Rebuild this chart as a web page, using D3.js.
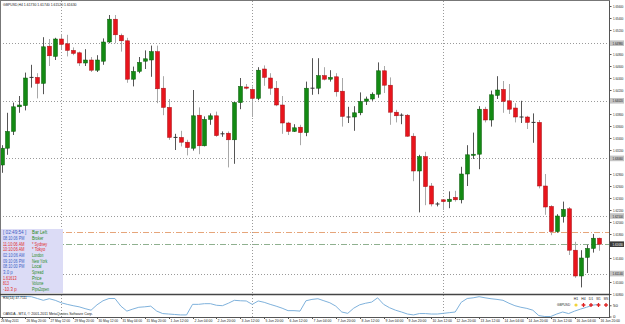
<!DOCTYPE html>
<html>
<head>
<meta charset="utf-8">
<script src="https://cdn.jsdelivr.net/npm/d3@7"></script>
<style>
  html, body { margin: 0; padding: 0; background: #fff; }
  svg { display: block; font-family: "Liberation Sans", Arial, sans-serif; }
</style>
</head>
<body>
<svg id="chart" width="625" height="324"></svg>
<script>
// GBPUSD H4, 101 bars
const symbol = "GBPUSD,H4";

const opens = [1.6295,1.6323,1.6351,1.6392,1.6394,1.6441,1.6441,1.6431,1.6493,1.6476,
  1.6505,1.6497,1.6486,1.6482,1.6465,1.6470,1.6453,1.6468,1.6500,1.6538,
  1.6511,1.6502,1.6438,1.6451,1.6468,1.6470,1.6484,1.6423,1.6391,1.6341,
  1.6341,1.6333,1.6323,1.6378,1.6327,1.6371,1.6377,1.6347,1.6348,1.6337,
  1.6399,1.6425,1.6421,1.6406,1.6455,1.6440,1.6423,1.6395,1.6365,1.6351,
  1.6358,1.6349,1.6423,1.6423,1.6444,1.6438,1.6442,1.6418,1.6375,1.6375,
  1.6382,1.6401,1.6405,1.6413,1.6452,1.6428,1.6383,1.6378,1.6378,1.6343,
  1.6285,1.6309,1.6260,1.6230,1.6237,1.6234,1.6241,1.6237,1.6280,1.6311,
  1.6313,1.6388,1.6370,1.6411,1.6421,1.6402,1.6390,1.6375,1.6375,1.6366,
  1.6366,1.6260,1.6226,1.6184,1.6209,1.6222,1.6153,1.6110,1.6141,1.6156,
  1.6173];
const highs = [1.6328,1.6382,1.6399,1.6410,1.6449,1.6462,1.6448,1.6508,1.6505,1.6507,
  1.6513,1.6512,1.6491,1.6484,1.6488,1.6475,1.6478,1.6506,1.6545,1.6545,
  1.6514,1.6507,1.6459,1.6475,1.6486,1.6494,1.6494,1.6443,1.6405,1.6347,
  1.6352,1.6337,1.6420,1.6391,1.6376,1.6381,1.6384,1.6351,1.6351,1.6400,
  1.6440,1.6430,1.6426,1.6458,1.6461,1.6448,1.6435,1.6410,1.6367,1.6363,
  1.6362,1.6434,1.6473,1.6473,1.6458,1.6453,1.6448,1.6440,1.6392,1.6393,
  1.6416,1.6409,1.6416,1.6466,1.6460,1.6441,1.6387,1.6381,1.6380,1.6348,
  1.6312,1.6317,1.6265,1.6233,1.6238,1.6251,1.6252,1.6292,1.6328,1.6349,
  1.6393,1.6392,1.6419,1.6443,1.6435,1.6430,1.6398,1.6402,1.6377,1.6381,
  1.6370,1.6280,1.6228,1.6213,1.6234,1.6225,1.6167,1.6153,1.6162,1.6180,
  1.6174];
const lows = [1.6282,1.6312,1.6345,1.6382,1.6386,1.6424,1.6406,1.6413,1.6460,1.6470,
  1.6487,1.6476,1.6478,1.6460,1.6460,1.6450,1.6450,1.6462,1.6498,1.6498,
  1.6484,1.6432,1.6426,1.6448,1.6455,1.6442,1.6398,1.6378,1.6337,1.6320,
  1.6326,1.6311,1.6319,1.6313,1.6326,1.6362,1.6342,1.6342,1.6291,1.6297,
  1.6388,1.6421,1.6375,1.6403,1.6427,1.6412,1.6393,1.6347,1.6345,1.6350,
  1.6328,1.6343,1.6412,1.6413,1.6436,1.6434,1.6409,1.6359,1.6365,1.6352,
  1.6378,1.6395,1.6402,1.6407,1.6415,1.6362,1.6366,1.6363,1.6342,1.6268,
  1.6216,1.6228,1.6226,1.6226,1.6220,1.6223,1.6234,1.6231,1.6260,1.6305,
  1.6288,1.6366,1.6359,1.6405,1.6382,1.6380,1.6366,1.6365,1.6355,1.6332,
  1.6256,1.6212,1.6178,1.6182,1.6199,1.6145,1.6107,1.6091,1.6115,1.6149,
  1.6152];
const closes = [1.6323,1.6351,1.6392,1.6395,1.6440,1.6441,1.6431,1.6492,1.6477,1.6505,
  1.6496,1.6486,1.6481,1.6465,1.6470,1.6453,1.6470,1.6500,1.6538,1.6512,
  1.6502,1.6438,1.6451,1.6466,1.6472,1.6484,1.6422,1.6391,1.6341,1.6341,
  1.6333,1.6324,1.6377,1.6327,1.6371,1.6377,1.6344,1.6347,1.6337,1.6399,
  1.6426,1.6423,1.6406,1.6453,1.6441,1.6423,1.6395,1.6365,1.6351,1.6357,
  1.6349,1.6423,1.6423,1.6444,1.6438,1.6441,1.6417,1.6376,1.6375,1.6382,
  1.6401,1.6405,1.6413,1.6452,1.6428,1.6383,1.6377,1.6378,1.6343,1.6285,
  1.6309,1.6259,1.6230,1.6230,1.6234,1.6238,1.6237,1.6280,1.6312,1.6313,
  1.6388,1.6370,1.6412,1.6420,1.6401,1.6388,1.6375,1.6375,1.6366,1.6366,
  1.6260,1.6225,1.6184,1.6210,1.6221,1.6153,1.6110,1.6140,1.6156,1.6173,
  1.6163];

// oscillator in the lower window (0..100)
const oscValues = [89,89,89,89,89,88,80,72,79,72,61,54,48,43,35,28,52,70,80,80,
  46,24,33,41,43,46,24,13,11,9,7,7,54,54,57,57,50,48,59,72,
  70,69,54,69,63,54,46,37,26,26,24,70,76,79,70,61,46,20,14,37,
  52,59,64,83,54,39,28,20,11,7,13,13,11,11,14,17,20,63,80,83,
  88,83,79,76,72,59,48,41,36,28,4,0,0,11,20,13,24,33,41,50,54];

const timeLabels = ["26 May 2011","26 May 20:00","27 May 12:00","29 May 20:00","30 May 12:00",
  "31 May 04:00","31 May 20:00","1 Jun 12:00","2 Jun 04:00","2 Jun 20:00","3 Jun 12:00",
  "5 Jun 20:00","6 Jun 12:00","7 Jun 04:00","7 Jun 20:00","8 Jun 12:00","9 Jun 04:00",
  "9 Jun 20:00","10 Jun 12:00","12 Jun 20:00","13 Jun 12:00","14 Jun 04:00","14 Jun 20:00",
  "15 Jun 12:00","16 Jun 04:00","16 Jun 20:00"];
const priceTicks = [1.6560,1.6540,1.6520,1.6500,1.6480,1.6460,1.6440,1.6420,1.6400,1.6380,
  1.6360,1.6340,1.6320,1.6300,1.6280,1.6260,1.6240,1.6220,1.6200,1.6180,1.6160,1.6140,
  1.6120,1.6100,1.6080];
const levelLines = [1.6498, 1.6402, 1.6306, 1.6210, 1.6114];
const orangeLevel = 1.6183;
const gridBars = [10, 42, 74];
const oscTicks = [50, 0];

const infoValues = ["[ 02:49:54 ]","08:10:06 PM","11:10:06 AM","10:10:06 AM","02:10:06 AM",
  "09:10:06 PM","08:10:00 PM","3.0 p","1.61613","813","-10.3 p"];
const infoNames = ["Bar Left","Broker","* Sydney","* Tokyo","London","New York","Local",
  "Spread","Price","Volume","Pips2open"];
const infoValueColors = ["#3b5cc4","#3b5cc4","#e02828","#e02828","#3b5cc4","#3b5cc4",
  "#3b5cc4","#3b5cc4","#e02828","#e02828","#e02828"];
const infoNameColors = ["#1f8a1f","#1f8a1f","#e02828","#e02828","#1f8a1f","#1f8a1f",
  "#1f8a1f","#1f8a1f","#1f8a1f","#1f8a1f","#1f8a1f"];
const tfNames = ["H1","H4","D1","W1","MN"];

const W = 625, H = 324;
const plotRight = 609;
const mainTop = 1, mainBottom = 294;
const oscTop = 294, oscBottom = 317;

const svg = d3.select("#chart");
const bars = d3.range(closes.length);

let x = d3.scaleLinear().domain([0, bars.length - 1]).range([1.5, 598.5]);
let y = d3.scaleLinear().domain([1.6570, 1.6080]).range([0, 294]);
let yOsc = d3.scaleLinear().domain([0, 100]).range([316.5, 294]);

// squeeze text horizontally to the width it has in the screenshot
function fit(sel, perChar) {
  sel.each(function () {
    let n = this.textContent.length;
    let natural = this.getComputedTextLength();
    if (!natural) return;
    let s = Math.min(1, n * perChar / natural);
    let tx = +this.getAttribute("x") || 0;
    this.setAttribute("transform", `translate(${tx * (1 - s)},0) scale(${s},1)`);
  });
  return sel;
}

svg.append("rect").attr("width", W).attr("height", H).attr("fill", "#fff");

svg.append("clipPath").attr("id", "mainClip")
  .append("rect").attr("x", 0).attr("y", mainTop).attr("width", plotRight).attr("height", mainBottom - mainTop);

// vertical grid (through both windows)
svg.selectAll(".vgrid").data(gridBars).enter().append("line")
  .attr("x1", d => Math.round(x(d)) + 0.5).attr("x2", d => Math.round(x(d)) + 0.5)
  .attr("y1", mainTop).attr("y2", oscBottom)
  .attr("stroke", "#9a9a9a").attr("stroke-width", 1).attr("stroke-dasharray", "1,2");

// horizontal levels
svg.selectAll(".hgrid").data(levelLines).enter().append("line")
  .attr("x1", 0).attr("x2", plotRight)
  .attr("y1", d => Math.round(y(d)) + 0.5).attr("y2", d => Math.round(y(d)) + 0.5)
  .attr("stroke", "#9a9a9a").attr("stroke-width", 1).attr("stroke-dasharray", "1,2");

svg.append("line")
  .attr("x1", 0).attr("x2", plotRight)
  .attr("y1", Math.round(y(orangeLevel)) + 0.5).attr("y2", Math.round(y(orangeLevel)) + 0.5)
  .attr("stroke", "#e6a57a").attr("stroke-width", 1).attr("stroke-dasharray", "6,2,1,2");

let last = closes.length - 1;
svg.append("line")
  .attr("x1", 0).attr("x2", plotRight)
  .attr("y1", Math.round(y(closes[last])) + 0.5).attr("y2", Math.round(y(closes[last])) + 0.5)
  .attr("stroke", "#8fb08f").attr("stroke-width", 1).attr("stroke-dasharray", "6,2,1,2");

// candles
let candles = svg.append("g").attr("clip-path", "url(#mainClip)");
bars.forEach(i => {
  let o = opens[i], c = closes[i];
  let up = c > o, flat = Math.abs(c - o) < 0.00005;
  let cx = Math.round(x(i)) + 0.5;
  candles.append("line")
    .attr("x1", cx).attr("x2", cx)
    .attr("y1", y(highs[i])).attr("y2", y(lows[i]))
    .attr("stroke", up || flat ? "#555" : "#a8a8a8").attr("stroke-width", 1);
  if (flat) {
    candles.append("line")
      .attr("x1", cx - 2).attr("x2", cx + 2)
      .attr("y1", y(o)).attr("y2", y(o))
      .attr("stroke", "#333").attr("stroke-width", 1);
  } else {
    let top = y(Math.max(o, c)), bot = y(Math.min(o, c));
    candles.append("rect")
      .attr("x", cx - 2).attr("width", 4)
      .attr("y", top).attr("height", Math.max(1, bot - top))
      .attr("fill", up ? "#138a13" : "#e8141c")
      .attr("stroke", up ? "#0b5a0b" : "#a31015").attr("stroke-width", 0.5);
  }
});

// title
fit(svg.append("text").attr("x", 3).attr("y", 6)
  .attr("font-size", 4.4).attr("fill", "#222")
  .text(symbol + " " + [opens[last], highs[last], lows[last], closes[last]].map(d3.format(".5f")).join(" ")), 1.8);

// frame + price axis
svg.append("line").attr("x1", plotRight + 0.5).attr("x2", plotRight + 0.5)
  .attr("y1", 0).attr("y2", oscBottom).attr("stroke", "#555").attr("stroke-width", 1);
svg.append("line").attr("x1", 0).attr("x2", plotRight + 1)
  .attr("y1", 0.5).attr("y2", 0.5).attr("stroke", "#777");
svg.append("line").attr("x1", 0.5).attr("x2", 0.5)
  .attr("y1", 0).attr("y2", oscBottom).attr("stroke", "#777");

let boxed = levelLines.concat([closes[last]]);
let freeTicks = priceTicks.filter(t => boxed.every(b => Math.abs(y(t) - y(b)) > 4));

let priceAxis = svg.append("g").attr("transform", `translate(${plotRight + 0.5},0)`)
  .call(d3.axisRight(y).tickValues(freeTicks).tickSize(2).tickPadding(1.5).tickFormat(d3.format(".5f")));
priceAxis.select(".domain").remove();
priceAxis.selectAll("line").attr("stroke", "#555");
fit(priceAxis.selectAll("text").attr("font-size", 4.4).attr("fill", "#222")
  .attr("font-family", "Liberation Sans, Arial, sans-serif"), 1.5);

// boxed labels on the axis
function axisBox(value, fill, color) {
  let g = svg.append("g").attr("transform", `translate(${plotRight + 1},${y(value)})`);
  g.append("rect").attr("x", 0).attr("y", -2.8).attr("width", 14).attr("height", 5.6).attr("fill", fill);
  fit(g.append("text").attr("x", 2.5).attr("y", 1.6).attr("font-size", 4.4).attr("fill", color)
    .text(d3.format(".5f")(value)), 1.5);
}
levelLines.forEach(v => axisBox(v, "#c4c4c4", "#222"));
axisBox(closes[last], "#3a3a3a", "#fff");

// info panel
svg.append("rect").attr("x", 1).attr("y", 229).attr("width", 62).attr("height", 64).attr("fill", "#dcdcf6");
infoValues.forEach((t, k) => {
  fit(svg.append("text").attr("x", 3).attr("y", 234.5 + k * 5.65).attr("font-size", 4.8)
    .attr("fill", infoValueColors[k]).text(t), 1.95);
  fit(svg.append("text").attr("x", 32).attr("y", 234.5 + k * 5.65).attr("font-size", 4.8)
    .attr("fill", infoNameColors[k]).text(infoNames[k]), 1.9);
});

// lower window
svg.append("line").attr("x1", 0).attr("x2", plotRight + 1)
  .attr("y1", oscTop + 0.5).attr("y2", oscTop + 0.5).attr("stroke", "#444").attr("stroke-width", 1.5);
svg.append("line").attr("x1", 0).attr("x2", plotRight + 1)
  .attr("y1", oscBottom + 0.5).attr("y2", oscBottom + 0.5).attr("stroke", "#555");

let oscLine = d3.line().x((d, i) => x(i)).y(d => yOsc(d));
svg.append("path").datum(oscValues).attr("d", oscLine)
  .attr("fill", "none").attr("stroke", "#7fb2dc").attr("stroke-width", 1);

fit(svg.append("text").attr("x", 3).attr("y", 299).attr("font-size", 4.2).attr("fill", "#222")
  .text("RSI(14) 47.7111"), 1.6);
fit(svg.append("text").attr("x", 3).attr("y", 315).attr("font-size", 4.2).attr("fill", "#222")
  .text("OANDA - MT4, © 2001-2011 MetaQuotes Software Corp."), 1.8);

let oscAxis = svg.append("g").attr("transform", `translate(${plotRight + 0.5},0)`)
  .call(d3.axisRight(yOsc).tickValues(oscTicks).tickSize(2).tickPadding(1.5));
oscAxis.select(".domain").remove();
oscAxis.selectAll("text").attr("font-size", 4.4).attr("fill", "#222").attr("font-family", "Liberation Sans, Arial, sans-serif");
oscAxis.selectAll("line").attr("stroke", "#555");

// timeframe panel
tfNames.forEach((t, k) => {
  let px = 576 + k * 7.5;
  fit(svg.append("text").attr("x", px).attr("y", 300).attr("font-size", 4.2).attr("fill", "#222")
    .attr("text-anchor", "middle").text(t), 2.2);
  if (k === 0) {
    svg.append("circle").attr("cx", px).attr("cy", 305).attr("r", 1.6).attr("fill", "#f2d43a");
  } else {
    svg.append("path").attr("d", d3.symbol().type(d3.symbolCross).size(8)())
      .attr("transform", `translate(${px},305)`).attr("fill", "#e02020");
  }
});
fit(svg.append("text").attr("x", 557).attr("y", 306.5).attr("font-size", 4.2).attr("fill", "#222")
  .text("GBPUSD"), 2.2);

// time axis
timeLabels.forEach((t, k) => {
  let bx = Math.round(x(k * 4)) + 0.5;
  svg.append("line").attr("x1", bx).attr("x2", bx).attr("y1", oscBottom).attr("y2", oscBottom + 2)
    .attr("stroke", "#555");
  fit(svg.append("text").attr("x", k === 0 ? 1 : bx + 1).attr("y", 322.5)
    .attr("font-size", 4.2).attr("fill", "#222").text(t), 1.62);
});
</script>
</body>
</html>
